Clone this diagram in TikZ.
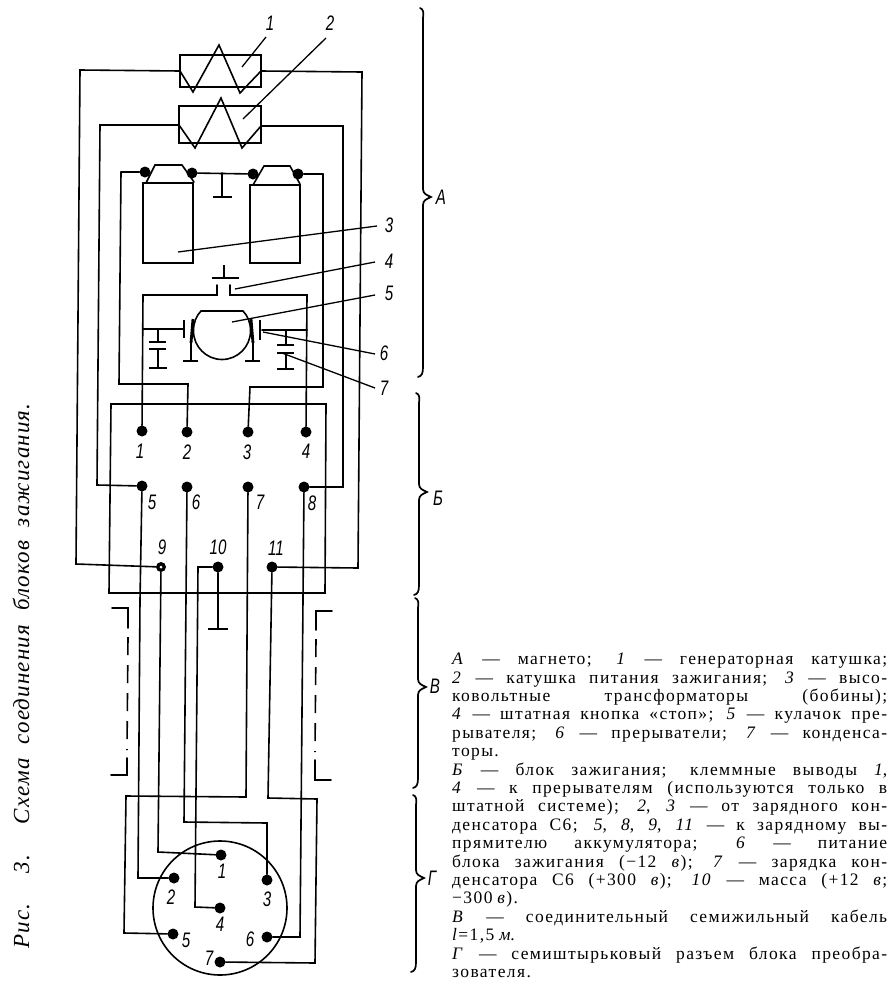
\documentclass[tikz,border=0pt]{standalone}
\usepackage{fontspec}
\setmainfont{Liberation Serif}
\newfontfamily\legfont[LetterSpace=8]{Liberation Serif}
\newfontfamily\capfont[LetterSpace=5]{Liberation Serif}
\newfontfamily\numfont[FakeStretch=0.72]{Liberation Sans}
\newcommand{\brcurly}[4]{% x, top, mid, bottom
  \draw[wire,line width=1.7pt] (#1-3,#2) .. controls (#1,#2+1) and (#1+1,#2+4) .. (#1,#2+10) -- (#1,#3-8) .. controls (#1,#3-3) and (#1+4,#3-2) .. (#1+8,#3)
   .. controls (#1+4,#3+2) and (#1,#3+3) .. (#1,#3+8) -- (#1,#4-10) .. controls (#1,#4-4) and (#1-1,#4-1) .. (#1-5,#4);}
\newcommand{\legj}[1]{\hbox to 435pt{\spaceskip=.25em plus 1fil minus .1em\relax #1}}
\newcommand{\legs}[1]{\hbox{\spaceskip=.28em\relax #1}}
\newcommand{\nm}[1]{\textit{#1}}
\begin{document}
\begin{tikzpicture}[x=1pt,y=-1pt,
  wire/.style={line width=1.6pt,line join=miter,line cap=round},
  plate/.style={line width=2.8pt},
  leader/.style={line width=1.3pt},
  dot/.style={circle,fill=black,draw=none,inner sep=0pt,minimum size=#1},
  dot/.default=11pt,
  num/.style={font=\numfont\fontsize{21}{21}\selectfont\itshape,inner sep=0pt},
  dashwire/.style={line width=1.6pt,dash pattern=on 18pt off 10pt}]
\useasboundingbox (0,0) rectangle (895,991);
\fill[white] (0,0) rectangle (895,991);

% coils
\draw[wire] (180,55) rectangle (261,87);
\draw[wire] (179,106) rectangle (261,143);
\coordinate (c1l) at (180,71);\coordinate (c1r) at (261,71);
\coordinate (c2l) at (179,125);\coordinate (c2r) at (261,126);
\draw[wire] (c1l) -- (193,92) -- (219,45) -- (240,93) -- (c1r);
\draw[wire] (c2l) -- (195,148) -- (221,98) -- (242,148) -- (c2r);

% transformers
\draw[wire] (143,183) rectangle (193,263);
\draw[wire] (250,185) rectangle (300,263);
\node[dot] (ta) at (145,172) {};
\node[dot] (tb) at (192,173) {};
\node[dot] (tc) at (253,174) {};
\node[dot] (td) at (298,174) {};
\draw[wire] (146,183) -- (155,165) -- (182,165) -- (194,182);
\draw[wire] (253,185) -- (264,166) -- (290,166) -- (300,184);
\draw[wire] (ta) -- (121,172);
\draw[wire] (tb) -- (tc);
\draw[wire] (td) -- (323,174);
\draw[wire] (222,173) -- (222,197);
\draw[plate] (213,197) -- (232,197);

% terminals of block B
\node[dot] (t1) at (142,431) {};
\node[dot] (t2) at (187,432) {};
\node[dot] (t3) at (248,432) {};
\node[dot] (t4) at (306,432) {};
\node[dot] (t5) at (142,486) {};
\node[dot] (t6) at (187,487) {};
\node[dot] (t7) at (248,487) {};
\node[dot] (t8) at (304,487) {};
\node[dot=10pt] (t9) at (161,567) {};
\node[circle,fill=white,inner sep=0pt,minimum size=3pt] at (161,567) {};
\node[dot] (t10) at (218,567) {};
\node[dot] (t11) at (272,567) {};

% block B outline
\draw[wire] (111,404) -- (326,404) -- (325,593) -- (109,593) -- cycle;

% transformer feeds
\draw[wire] (121,172) -- (119,384) -- (188,384) -- (t2);
\draw[wire] (323,174) -- (323,387) -- (250,387) -- (t3);

% stop box
\draw[wire] (t1) -- (143,295) -- (217,295) -- (217,285);
\draw[wire] (t4) -- (307,295) -- (230,295) -- (230,285);
\draw[plate] (212,278) -- (239,278);
\draw[plate] (224,265) -- (224,278);

% cam
\draw[wire] (201,311) -- (243,311) .. controls (248,316) and (250.5,323) .. (250.5,331) .. controls (250.5,346.7) and (237.7,359.5) .. (222,359.5) .. controls (206.3,359.5) and (193.5,346.7) .. (193.5,331) .. controls (193.5,323) and (196,316) .. cycle;
% left contact
\draw[wire] (143,329) -- (183,329);
\draw[plate] (184,320) -- (184,338);
\draw[plate] (193,319) -- (191,343);
\draw[wire] (191,340) -- (191,361);
\draw[plate] (183,361) -- (198,361);
\draw[wire] (158,329) -- (158,342);
\draw[plate] (149,342) -- (166,342);
\draw[plate] (149,349) -- (166,349);
\draw[wire] (158,349) -- (158,368);
\draw[plate] (149,368) -- (167,368);
% right contact
\draw[plate] (251,319) -- (253,343);
\draw[plate] (260,320) -- (260,340);
\draw[wire] (262,330) -- (307,330);
\draw[wire] (253,343) -- (253,361);
\draw[plate] (245,361) -- (260,361);
\draw[wire] (286,330) -- (286,345);
\draw[plate] (277,345) -- (294,345);
\draw[plate] (277,353) -- (294,353);
\draw[wire] (286,353) -- (286,369);
\draw[plate] (277,369) -- (294,369);

% wires of coils to terminals
\draw[wire] (c1l) -- (80,70) -- (76,564) -- (t9);
\draw[wire] (c1r) -- (362,72) -- (358,568) -- (t11);
\draw[wire] (c2l) -- (100,125) -- (97,485) -- (t5);
\draw[wire] (c2r) -- (343,126) -- (343,487) -- (t8);

% plug
\draw[wire] (220,908) circle[radius=67];
\node[dot] (p1) at (221,855) {};
\node[dot] (p2) at (174,878) {};
\node[dot] (p3) at (267,880) {};
\node[dot] (p4) at (220,908) {};
\node[dot] (p5) at (173,934) {};
\node[dot] (p6) at (267,937) {};
\node[dot] (p7) at (220,962) {};

% cable
\draw[wire] (t5) -- (140,600) -- (138,878) -- (p2);
\draw[wire] (t9) -- (158,852) -- (p1);
\draw[wire] (t6) -- (184,822) -- (267,823) -- (p3);
\draw[wire] (t10) -- (198,567) -- (195,907) -- (p4);
\draw[wire] (t7) -- (246,797) -- (126,796) -- (124,933) -- (p5);
\draw[wire] (t11) -- (268,798) -- (317,799) -- (315,963) -- (p7);
\draw[wire] (t8) -- (300,937) -- (p6);
\draw[wire] (t10) -- (218,628);
\draw[plate] (208,629) -- (228,629);

% dashed brackets
\draw[wire] (112,608) -- (128,608) -- (128,628);
\draw[dashwire] (128,637) -- (127,750);
\draw[wire] (127,758) -- (127,775) -- (111,775);
\draw[wire] (332,611) -- (316,611) -- (316,630);
\draw[dashwire] (316,639) -- (315,752);
\draw[wire] (315,760) -- (315,780) -- (331,780);

% leaders
\node[num] (n1) at (270,23) {1};
\node[num] (n2) at (330,23) {2};
\node[num] (n3) at (389,225) {3};
\node[num] (n4) at (389,261) {4};
\node[num] (n5) at (389,293) {5};
\node[num] (n6) at (384,353) {6};
\node[num] (n7) at (384,388) {7};
\draw[leader] (242,67) -- (266,37);
\draw[leader] (243,119) -- (326,38);
\draw[leader] (178,252) -- (377,226);
\draw[leader] (235,289) -- (375,262);
\draw[leader] (232,322) -- (375,295);
\draw[leader] (263,332) -- (375,354);
\draw[leader] (282,353) -- (375,388);

% terminal numbers
\node[num] (l1) at (140,451) {1};
\node[num] (l2) at (187,452) {2};
\node[num] (l3) at (247,452) {3};
\node[num] (l4) at (306,451) {4};
\node[num] (l5) at (152,502) {5};
\node[num] (l6) at (196,502) {6};
\node[num] (l7) at (260,502) {7};
\node[num] (l8) at (312,503) {8};
\node[num] (l9) at (162,547) {9};
\node[num] (l10) at (218,547) {10};
\node[num] (l11) at (276,548) {11};
% plug numbers
\node[num] (q1) at (222,871) {1};
\node[num] (q2) at (171,897) {2};
\node[num] (q3) at (267,899) {3};
\node[num] (q4) at (220,924) {4};
\node[num] (q5) at (186,940) {5};
\node[num] (q6) at (250,939) {6};
\node[num] (q7) at (209,958) {7};

% braces
\brcurly{423}{8}{197}{377}
\brcurly{419}{393}{492}{595}
\brcurly{418}{598}{687}{788}
\brcurly{416}{795}{878}{972}
\node[num] (sA) at (441,197) {А};
\node[num] (sB) at (438,498) {Б};
\node[num] (sV) at (435,686) {В};
\node[num] (sG) at (432,878) {Г};

% caption
\node[rotate=90,inner sep=0pt] (cap) at (21,676) {\hbox to 545pt{\capfont\fontsize{23}{23}\selectfont\itshape\spaceskip=.3em plus 1fil\relax Рис. 3. Схема соединения блоков зажигания.}};

% legend
\node[anchor=north west,inner sep=0pt] (legend) at (452,653) {\vbox{\hsize=435pt\legfont\fontsize{17.5}{18.4}\selectfont\baselineskip=18.4pt\lineskip=0pt\lineskiplimit=-10pt
\legj{\nm{А} — магнето; \nm{1} — генераторная катушка;}
\legj{\nm{2} — катушка питания зажигания; \nm{3} — высо-}
\legj{ковольтные трансформаторы (бобины);}
\legj{\nm{4} — штатная кнопка «стоп»; \nm{5} — кулачок пре-}
\legj{рывателя; \nm{6} — прерыватели; \nm{7} — конденса-}
\legs{торы.}
\legj{\nm{Б} — блок зажигания; клеммные выводы \nm{1},}
\legj{\nm{4} — к прерывателям (используются только в}
\legj{штатной системе); \nm{2}, \nm{3} — от зарядного кон-}
\legj{денсатора С6; \nm{5}, \nm{8}, \nm{9}, \nm{11} — к зарядному вы-}
\legj{прямителю аккумулятора; \nm{6} — питание}
\legj{блока зажигания (−12 \nm{в}); \nm{7} — зарядка кон-}
\legj{денсатора С6 (+300 \nm{в}); \nm{10} — масса (+12 \nm{в};}
\legs{−300 \nm{в}).}
\legj{\nm{В} — соединительный семижильный кабель}
\legs{\nm{l}=1,5 \nm{м}.}
\legj{\nm{Г} — семиштырьковый разъем блока преобра-}
\legs{зователя.}
}};
\end{tikzpicture}
\end{document}
